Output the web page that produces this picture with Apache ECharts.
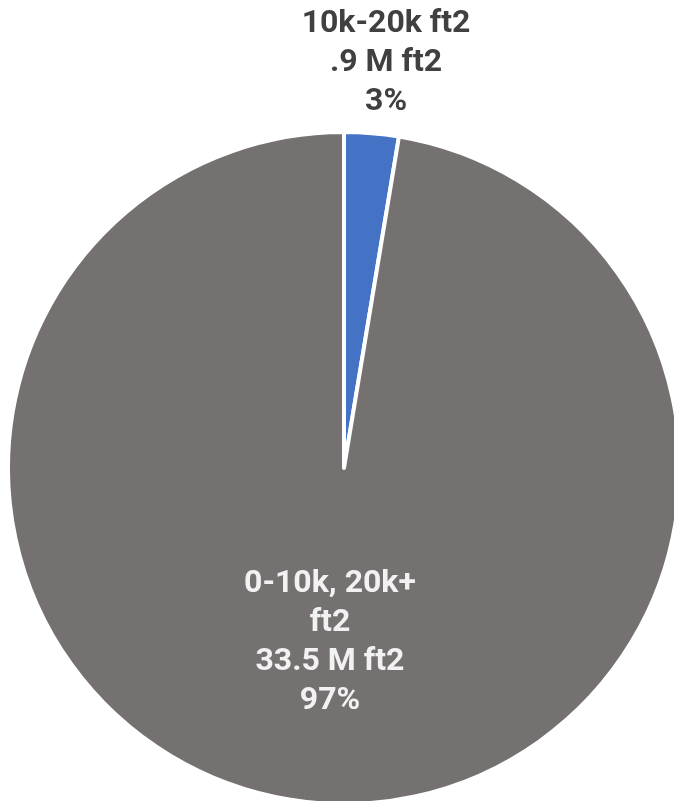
<!DOCTYPE html>
<html>
<head>
<meta charset="utf-8">
<script src="https://cdn.jsdelivr.net/npm/echarts@6/dist/echarts.min.js"></script>
<style>
  html, body { margin: 0; padding: 0; background: #fff; }
  #chart { width: 674px; height: 801px; }
</style>
</head>
<body>
<div id="chart"></div>
<script>
const categories = ["10k-20k ft2", "0-10k, 20k+\nft2"];
const areas = [0.9, 33.5]; // million ft2
const colors = ["#4472c4", "#757170"];

function fmtArea(v) {
  return String(v).replace(/^0\./, ".") + " M ft2";
}

const chart = echarts.init(document.getElementById("chart"));

const labelStyles = [
  { color: "#404040", offset: [28, -235] },
  { color: "#f2f2f2", offset: [0, 4] },
];

chart.setOption({
  animation: false,
  series: [
    {
      type: "pie",
      center: [344, 468],
      radius: [0, 336],
      startAngle: 90,
      percentPrecision: 0,
      itemStyle: { borderColor: "#fff", borderWidth: 4 },
      labelLine: { show: false },
      data: categories.map((name, i) => ({
        name: name,
        value: areas[i],
        itemStyle: { color: colors[i] },
        label: {
          show: true,
          position: "inside",
          color: labelStyles[i].color,
          offset: labelStyles[i].offset,
          fontFamily: "Roboto",
          fontWeight: "bold",
          fontSize: 32,
          lineHeight: 39,
          align: "center",
          formatter: (p) => `${p.name}\n${fmtArea(p.value)}\n${p.percent}%`,
        },
      })),
    },
  ],
});
</script>
</body>
</html>
